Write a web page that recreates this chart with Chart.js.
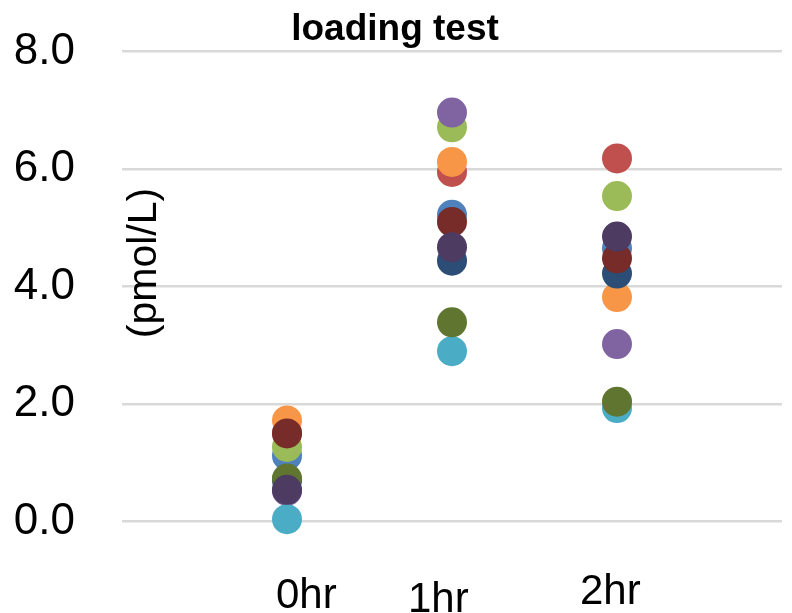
<!DOCTYPE html>
<html>
<head>
<meta charset="utf-8">
<script src="https://cdn.jsdelivr.net/npm/chart.js@4/dist/chart.umd.min.js"></script>
<style>
  html, body { margin: 0; padding: 0; background: #fff; }
  #wrap { width: 792px; height: 613px; position: relative; }
</style>
</head>
<body>
<div id="wrap"><canvas id="scatterChart"></canvas></div>
<script>
// categories (x positions 1..3 on a 0..4 axis)
const categories = ['0hr', '1hr', '2hr'];
const yTicks = [0, 2, 4, 6, 8];
const chartTitle = 'loading test';
const yTitle = '(pmol/L)';

// one small array per subject, values at 0hr / 1hr / 2hr
const s1 = [1.12, 5.22, 4.65];
const s2 = [1.50, 5.95, 6.18];
const s3 = [1.27, 6.71, 5.54];
const s4 = [0.52, 6.96, 3.02];
const s5 = [0.04, 2.90, 1.93];
const s6 = [1.72, 6.12, 3.82];
const s7 = [0.70, 4.44, 4.22];
const s8 = [1.50, 5.10, 4.48];
const s9 = [0.73, 3.39, 2.04];
const s10 = [0.54, 4.67, 4.85];

const series = [s1, s2, s3, s4, s5, s6, s7, s8, s9, s10];
const colors = ['#4F81BD', '#C0504D', '#9BBB59', '#8064A2', '#4BACC6',
                '#F79646', '#2C4D75', '#772C2A', '#5F7530', '#4D3B62'];

const FONT = '"Liberation Sans", Arial, Helvetica, sans-serif';

// text placement tweaks for the hand-placed category labels
const labelShift = [{dx: -11, y: 608}, {dx: -44, y: 612}, {dx: -37, y: 604}];

const textPlugin = {
    id: 'extraText',
    afterDraw(chart) {
        const ctx = chart.ctx;
        const xs = chart.scales.x;
        const area = chart.chartArea;
        ctx.save();
        ctx.fillStyle = '#000';
        // title
        ctx.font = 'bold 37px ' + FONT;
        ctx.textAlign = 'center';
        ctx.textBaseline = 'alphabetic';
        ctx.fillText(chartTitle, 395, 40);
        // category labels
        ctx.font = '42px ' + FONT;
        ctx.textAlign = 'left';
        categories.forEach((c, i) => {
            const px = xs.getPixelForValue(i + 1);
            ctx.fillText(c, px + labelShift[i].dx, labelShift[i].y);
        });
        // y axis title
        ctx.translate(area.left + 23, 263);
        ctx.rotate(-Math.PI / 2);
        ctx.textAlign = 'center';
        ctx.textBaseline = 'middle';
        ctx.font = '41px ' + FONT;
        ctx.fillText(yTitle, 0, 0);
        ctx.restore();
    }
};

const datasets = series.map((vals, i) => ({
    label: 'Series' + (i + 1),
    data: vals.map((v, j) => ({x: j + 1, y: v})),
    backgroundColor: colors[i],
    borderColor: colors[i],
    borderWidth: 0,
    pointRadius: 15,
    pointHoverRadius: 15,
    showLine: false,
    clip: false,
    order: series.length - i
}));

new Chart(document.getElementById('scatterChart'), {
    type: 'scatter',
    data: { datasets: datasets },
    plugins: [textPlugin],
    options: {
        responsive: true,
        maintainAspectRatio: false,
        animation: false,
        layout: { autoPadding: false, padding: { left: 0, right: 10, top: 51.5, bottom: 91.5 } },
        plugins: {
            legend: { display: false },
            tooltip: { enabled: false },
            title: { display: false }
        },
        scales: {
            x: {
                type: 'linear',
                display: false,
                min: 0,
                max: 4
            },
            y: {
                min: 0,
                max: 8,
                afterFit(scale) {
                    scale.width = 122;
                    scale.paddingTop = 0;
                    scale.paddingBottom = 0;
                },
                afterBuildTicks(scale) { scale.ticks = yTicks.map(v => ({value: v})); },
                border: { display: false },
                grid: { color: '#d9d9d9', lineWidth: 2.5, drawTicks: false },
                ticks: {
                    padding: 47,
                    color: '#000',
                    font: { family: FONT, size: 44 },
                    callback: v => v.toFixed(1)
                }
            }
        }
    }
});
</script>
</body>
</html>
